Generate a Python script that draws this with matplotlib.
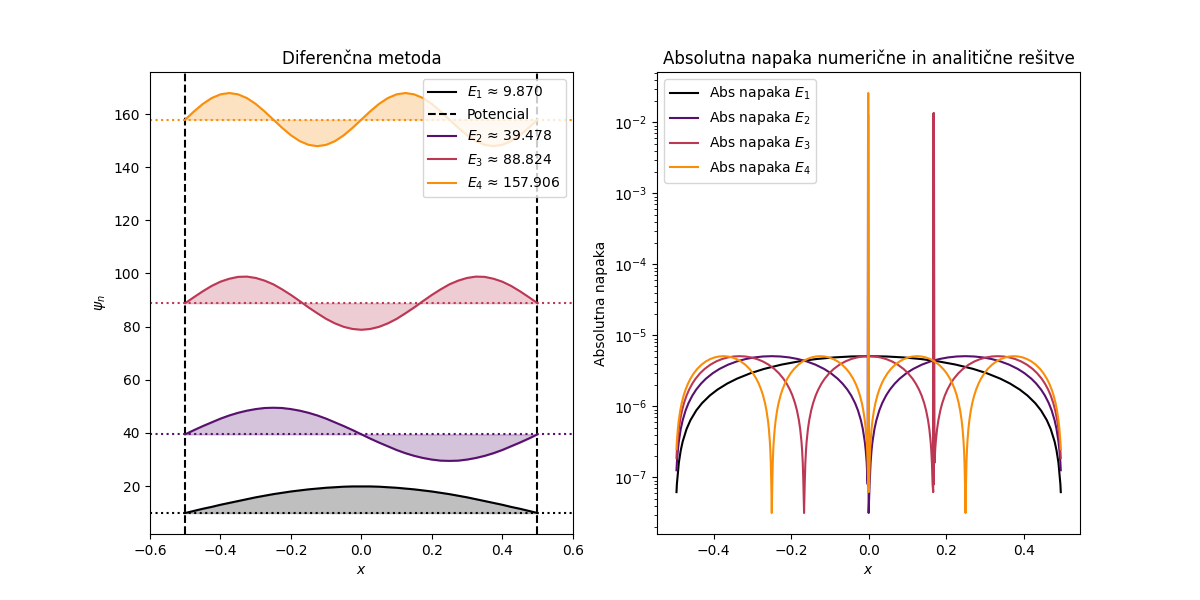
import numpy as np
import matplotlib.pyplot as plt

# energije (iz legende)
energies = [9.870, 39.478, 88.824, 157.906]

# valovne funkcije, odčitane na mreži x = -0.5 ... 0.5 (korak 0.025)
x_grid = np.linspace(-0.5, 0.5, 41)
psi_1 = [0, 0.8, 1.6, 2.3, 3.1, 3.8, 4.5, 5.2, 5.9, 6.5, 7.1, 7.6, 8.1, 8.5, 8.9, 9.2, 9.5, 9.7, 9.9, 10.0, 10.0,
         10.0, 9.9, 9.7, 9.5, 9.2, 8.9, 8.5, 8.1, 7.6, 7.1, 6.5, 5.9, 5.2, 4.5, 3.8, 3.1, 2.3, 1.6, 0.8, 0]
psi_2 = [0, 1.6, 3.1, 4.5, 5.9, 7.1, 8.1, 8.9, 9.5, 9.9, 10.0, 9.9, 9.5, 8.9, 8.1, 7.1, 5.9, 4.5, 3.1, 1.6, 0,
         -1.6, -3.1, -4.5, -5.9, -7.1, -8.1, -8.9, -9.5, -9.9, -10.0, -9.9, -9.5, -8.9, -8.1, -7.1, -5.9, -4.5,
         -3.1, -1.6, 0]
psi_3 = [0, 2.3, 4.5, 6.5, 8.1, 9.2, 9.9, 10.0, 9.5, 8.5, 7.1, 5.2, 3.1, 0.8, -1.6, -3.8, -5.9, -7.6, -8.9, -9.7,
         -10.0, -9.7, -8.9, -7.6, -5.9, -3.8, -1.6, 0.8, 3.1, 5.2, 7.1, 8.5, 9.5, 10.0, 9.9, 9.2, 8.1, 6.5, 4.5,
         2.3, 0]
psi_4 = [0, 3.1, 5.9, 8.1, 9.5, 10.0, 9.5, 8.1, 5.9, 3.1, 0, -3.1, -5.9, -8.1, -9.5, -10.0, -9.5, -8.1, -5.9, -3.1,
         0, 3.1, 5.9, 8.1, 9.5, 10.0, 9.5, 8.1, 5.9, 3.1, 0, -3.1, -5.9, -8.1, -9.5, -10.0, -9.5, -8.1, -5.9,
         -3.1, 0]
psi_list = [psi_1, psi_2, psi_3, psi_4]

# absolutna napaka: oblika enega loka (odčitano), vozli in vrhovi
err_peak = 5.1e-6
lobe_frac = [0, 0.005, 0.01, 0.015, 0.02, 0.03, 0.04, 0.055, 0.07, 0.09, 0.11, 0.135, 0.16, 0.195, 0.23,
             0.275, 0.32, 0.365, 0.41, 0.455, 0.5,
             0.545, 0.59, 0.635, 0.68, 0.725, 0.77, 0.805, 0.84, 0.865, 0.89, 0.91, 0.93, 0.945, 0.96,
             0.97, 0.98, 0.985, 0.99, 0.995, 1]
lobe_rel = [0, 0.0157, 0.0314, 0.0471, 0.0628, 0.0941, 0.1253, 0.1719, 0.2181, 0.2790, 0.3387, 0.4115,
            0.4818, 0.5750, 0.6613, 0.7604, 0.8443, 0.9114, 0.9603, 0.9900, 1.0,
            0.9900, 0.9603, 0.9114, 0.8443, 0.7604, 0.6613, 0.5750, 0.4818, 0.4115, 0.3387, 0.2790,
            0.2181, 0.1719, 0.1253, 0.0941, 0.0628, 0.0471, 0.0314, 0.0157, 0]

# prva/zadnja točka mreže
edge_x = 0.496

nodes_1 = [-0.5, 0.5]
node_err_1 = [6.2e-8, 6.2e-8]
nodes_2 = [-0.5, 0.0, 0.5]
node_err_2 = [1.26e-7, 3.15e-8, 1.26e-7]
nodes_3 = [-0.5, -0.1667, 0.1667, 0.5]
node_err_3 = [1.87e-7, 3.15e-8, 6.2e-8, 1.87e-7]
nodes_4 = [-0.5, -0.25, 0.0, 0.25, 0.5]
node_err_4 = [2.5e-7, 3.15e-8, 6.2e-8, 3.15e-8, 2.5e-7]

spikes_1 = []
spikes_2 = [(-0.0015, 1.3e-2)]
spikes_3 = [(0.1675, 1.35e-2), (0.1685, 1.35e-2)]
spikes_4 = [(-0.001, 2.6e-2)]


def error_curve(nodes, node_err, spikes):
    xs = [-edge_x]
    ys = [node_err[0]]
    for a, b, e_b in zip(nodes[:-1], nodes[1:], node_err[1:]):
        for f, r in zip(lobe_frac[1:-1], lobe_rel[1:-1]):
            x = a + f * (b - a)
            if abs(x) < edge_x:
                xs.append(x)
                ys.append(err_peak * r)
        xs.append(min(max(b, -edge_x), edge_x))
        ys.append(e_b)
    for sx, sy in spikes:
        xs.append(sx)
        ys.append(sy)
    order = np.argsort(xs, kind='stable')
    return np.array(xs)[order], np.array(ys)[order]


colors = plt.cm.inferno(np.linspace(0, 0.75, 4))

fig, (ax1, ax2) = plt.subplots(1, 2, figsize=(12, 6), dpi=100)

# levo: valovne funkcije
for i, (E, psi) in enumerate(zip(energies, psi_list)):
    y = E + np.array(psi)
    ax1.plot(x_grid, y, color=colors[i], label=f'$E_{i + 1}$ ≈ {E:.3f}')
    ax1.fill_between(x_grid, E, y, color=colors[i], alpha=0.25)
    ax1.axhline(E, color=colors[i], linestyle=':')
    if i == 0:
        ax1.axvline(-0.5, color='k', linestyle='--', label='Potencial')
        ax1.axvline(0.5, color='k', linestyle='--')

ax1.set_xlim(-0.6, 0.6)
ax1.set_title('Diferenčna metoda')
ax1.set_xlabel('$x$')
ax1.set_ylabel(r'$\psi_n$')
ax1.legend(loc='upper right')

# desno: absolutna napaka
err_data = [(nodes_1, node_err_1, spikes_1), (nodes_2, node_err_2, spikes_2),
            (nodes_3, node_err_3, spikes_3), (nodes_4, node_err_4, spikes_4)]
for i, (nodes, node_err, spikes) in enumerate(err_data):
    xs, ys = error_curve(nodes, node_err, spikes)
    ax2.plot(xs, ys, color=colors[i], label=f'Abs napaka $E_{i + 1}$')

ax2.set_yscale('log')
ax2.set_title('Absolutna napaka numerične in analitične rešitve')
ax2.set_xlabel('$x$')
ax2.set_ylabel('Absolutna napaka')
ax2.legend(loc='upper left')

fig.savefig('out.png')
